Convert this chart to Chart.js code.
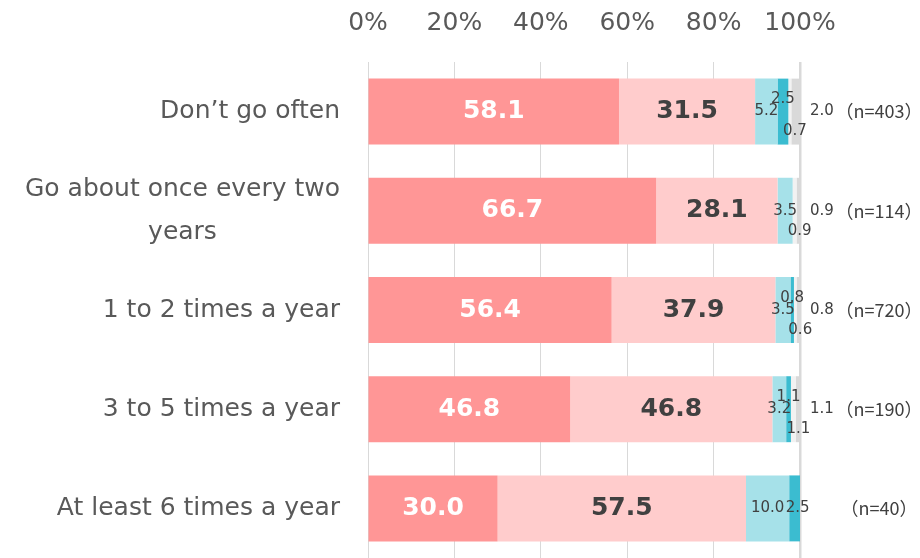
<!DOCTYPE html>
<html>
<head>
<meta charset="utf-8">
<script src="https://cdn.jsdelivr.net/npm/chart.js@4/dist/chart.umd.min.js"></script>
<style>
  body { margin: 0; background: #fff; }
  #wrap { width: 920px; height: 558px; }
</style>
</head>
<body>
<div id="wrap"><canvas id="chart"></canvas></div>
<script>
const categories = [
  ["Don\u2019t go often"],
  ["Go about once every two", "years"],
  ["1 to 2 times a year"],
  ["3 to 5 times a year"],
  ["At least 6 times a year"]
];
const sampleSizes = ["（n=403）", "（n=114）", "（n=720）", "（n=190）", "（n=40）"];
const tickLabels = ["0%", "20%", "40%", "60%", "80%", "100%"];

const seriesA = [58.1, 66.7, 56.4, 46.8, 30.0];
const seriesB = [31.5, 28.1, 37.9, 46.8, 57.5];
const seriesC = [5.2, 3.5, 3.5, 3.2, 10.0];
const seriesD = [2.5, 0, 0.8, 1.1, 2.5];
const seriesE = [0.7, 0.9, 0.6, 1.1, 0];
const seriesF = [2.0, 0.9, 0.8, 1.1, 0];

const colors = ["#FF9696", "#FFCCCC", "#A6E1E9", "#3BBCD0", "#F2F2F2", "#D9D9D9"];
const allSeries = [seriesA, seriesB, seriesC, seriesD, seriesE, seriesF];

const FONT = "'DejaVu Sans', sans-serif";
const CJK = "'Noto Sans CJK JP', 'DejaVu Sans', sans-serif";

const labelPlugin = {
  id: "labels",
  afterDatasetsDraw(chart) {
    const ctx = chart.ctx;
    const area = chart.chartArea;
    const yScale = chart.scales.y;
    ctx.save();

    // category labels, each block right-aligned, lines centred in block
    ctx.font = "25px " + FONT;
    ctx.fillStyle = "#595959";
    ctx.textAlign = "center";
    ctx.textBaseline = "middle";
    categories.forEach((lines, i) => {
      const yc = yScale.getPixelForValue(i);
      const w = Math.max(...lines.map(l => ctx.measureText(l).width));
      const right = 340;
      const lh = 43;
      lines.forEach((l, k) => {
        const y = yc + (k - (lines.length - 1) / 2) * lh;
        ctx.fillText(l, right - w / 2, y);
      });
    });

    chart.data.datasets.forEach((ds, di) => {
      const meta = chart.getDatasetMeta(di);
      meta.data.forEach((bar, j) => {
        const v = ds.data[j];
        if (!v) return;
        const cx = (bar.x + bar.base) / 2;
        const cy = bar.y;
        const txt = v.toFixed(1);
        if (di === 0) {
          ctx.font = "bold 25px " + FONT;
          ctx.fillStyle = "#FFFFFF";
          ctx.textAlign = "center";
          ctx.fillText(txt, cx, cy);
        } else if (di === 1) {
          ctx.font = "bold 25px " + FONT;
          ctx.fillStyle = "#404040";
          ctx.textAlign = "center";
          ctx.fillText(txt, cx, cy);
        } else if (di === 2) {
          ctx.font = "15px " + FONT;
          ctx.fillStyle = "#404040";
          ctx.textAlign = "center";
          ctx.fillText(txt, cx, cy);
        } else if (di === 3) {
          ctx.font = "15px " + FONT;
          ctx.fillStyle = "#404040";
          ctx.textAlign = "center";
          const up = seriesE[j] ? -12 : 0;
          ctx.fillText(txt, cx + (up ? 0 : 3), cy + up);
        } else if (di === 4) {
          ctx.font = "15px " + FONT;
          ctx.fillStyle = "#404040";
          ctx.textAlign = "center";
          ctx.fillText(txt, cx + 5, cy + 20);
        } else if (di === 5) {
          ctx.font = "15px " + FONT;
          ctx.fillStyle = "#404040";
          ctx.textAlign = "left";
          ctx.fillText(txt, area.right + 10, cy);
        }
      });
    });

    // sample sizes
    ctx.font = "18px " + CJK;
    ctx.fillStyle = "#404040";
    ctx.textAlign = "center";
    sampleSizes.forEach((s, i) => {
      ctx.fillText(s, 879, yScale.getPixelForValue(i));
    });
    ctx.restore();
  }
};

new Chart(document.getElementById("chart"), {
  type: "bar",
  data: {
    labels: categories.map(c => c.join(" ")),
    datasets: allSeries.map((d, i) => ({
      data: d,
      backgroundColor: colors[i],
      borderWidth: 0,
      barPercentage: 0.665,
      categoryPercentage: 1
    }))
  },
  options: {
    indexAxis: "y",
    responsive: true,
    maintainAspectRatio: false,
    animation: false,
    layout: { padding: { left: 0, right: 120, top: 0, bottom: 0 } },
    plugins: { legend: { display: false }, tooltip: { enabled: false } },
    scales: {
      x: {
        position: "top",
        stacked: true,
        min: 0,
        max: 100,
        ticks: {
          stepSize: 20,
          padding: 24,
          color: "#595959",
          font: { family: FONT, size: 25 },
          callback: (v) => tickLabels[v / 20]
        },
        grid: {
          color: "#D9D9D9",
          lineWidth: (c) => (c.tick && c.tick.value === 100 ? 2.5 : 1),
          drawTicks: false
        },
        border: { display: false },
        afterFit(s) { s.height = 62; }
      },
      y: {
        stacked: true,
        ticks: { display: false },
        grid: { display: false },
        border: { display: false },
        afterFit(s) { s.width = 368; }
      }
    }
  },
  plugins: [labelPlugin]
});
</script>
</body>
</html>
